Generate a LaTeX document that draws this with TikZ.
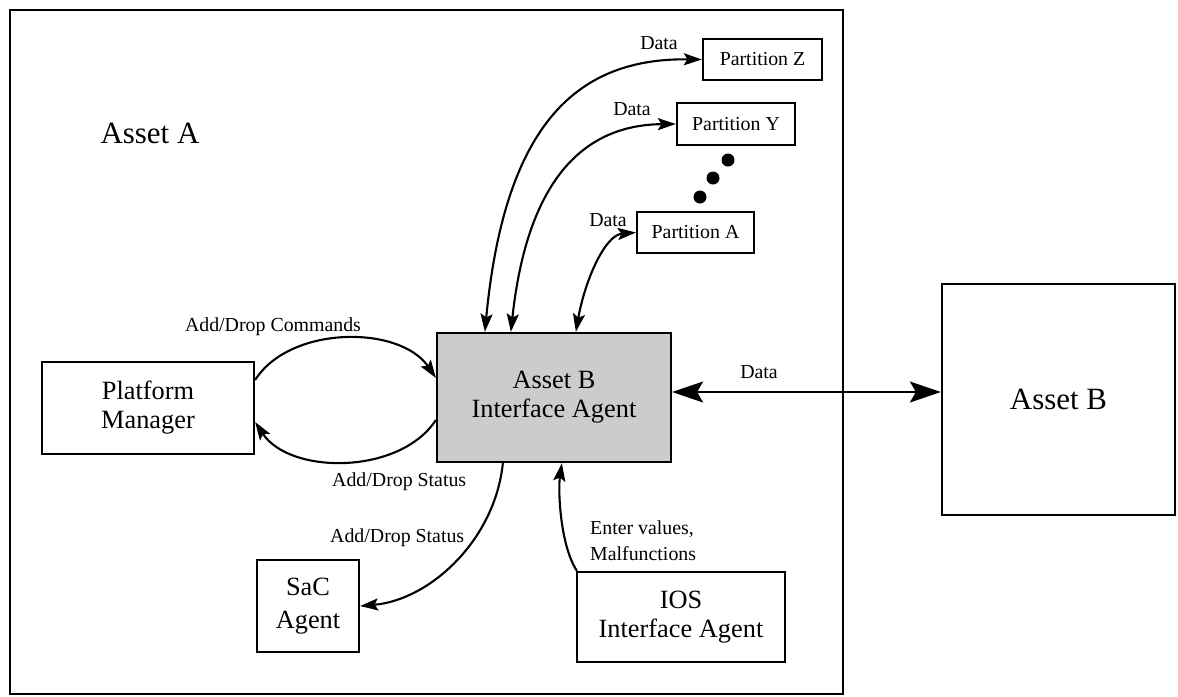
\documentclass[tikz,border=0pt]{standalone}
\usepackage{fontspec}
\setmainfont{Liberation Serif}
\usepackage{tikz}
\usetikzlibrary{positioning}
\usetikzlibrary{arrows.meta}

\begin{document}
\begin{tikzpicture}[x=0.02cm, y=-0.02cm,
  box/.style={draw, line width=1.3pt, align=center, inner sep=0pt},
  bigtxt/.style={font=\fontsize{15}{16.5}\selectfont},
  smalltxt/.style={font=\fontsize{11.3}{14.8}\selectfont},
  flow/.style={line width=1.2pt, -{Stealth[length=0.36cm,width=0.24cm,inset=0.07cm]}},
  twoway/.style={line width=1.2pt, {Stealth[length=0.36cm,width=0.24cm,inset=0.07cm]}-{Stealth[length=0.36cm,width=0.24cm,inset=0.07cm]}}]

\useasboundingbox (0,0) rectangle (1178,697);

% Asset A frame
\draw[line width=1.6pt] (10,10) rectangle (843,694);
\node[font=\fontsize{17.6}{20}\selectfont] (assetA) at (150,133) {Asset A};

% boxes
\node[box, bigtxt, minimum width=4.24cm, minimum height=1.84cm] (plat) at (148,408) {Platform\\Manager};
\node[box, bigtxt, fill=gray!40, minimum width=4.68cm, minimum height=2.58cm] (iface) at (554,397.5) {Asset B\\Interface Agent};
\node[box, bigtxt, font=\fontsize{15}{18.5}\selectfont, minimum width=2.04cm, minimum height=1.84cm] (sac) at (308,606) {SaC\\Agent};
\node[box, bigtxt, minimum width=4.16cm, minimum height=1.8cm] (ios) at (681,617) {IOS\\Interface Agent};
\node[box, font=\fontsize{17.6}{20}\selectfont, minimum width=4.66cm, minimum height=4.62cm] (assetB) at (1058.5,399.5) {Asset B};

\node[box, smalltxt, minimum width=2.38cm, minimum height=0.82cm] (pZ) at (762.5,59.5) {Partition Z};
\node[box, smalltxt, minimum width=2.36cm, minimum height=0.84cm] (pY) at (736,124) {Partition Y};
\node[box, smalltxt, minimum width=2.34cm, minimum height=0.82cm] (pA) at (695.5,232.5) {Partition A};

% dots between Y and A
\foreach \px/\py in {728/160, 713/178, 700/197}
  \fill (\px,\py) circle [radius=0.13cm];

% data to partitions
\draw[twoway] ([xshift=0.98cm]iface.north west) .. controls (505,120) and (580,58) .. (pZ.west);
\draw[twoway] ([xshift=1.5cm]iface.north west) .. controls (525,200) and (570,125) .. (pY.west);
\draw[twoway] ([xshift=2.8cm]iface.north west) .. controls (585,280) and (605,235) .. (pA.west);
\node[smalltxt] (dZ) at (659,43) {Data};
\node[smalltxt] (dY) at (632,109) {Data};
\node[smalltxt] (dA) at (608,220) {Data};

% platform manager loop
\draw[flow] ([yshift=0.56cm]plat.east) .. controls (290,325) and (400,325) .. ([yshift=0.39cm]iface.west);
\draw[flow] ([yshift=-0.45cm]iface.west) .. controls (400,475) and (290,475) .. ([yshift=-0.28cm]plat.east);
\node[smalltxt] (cmd) at (273,327) {Add/Drop Commands};
\node[smalltxt, anchor=west] (stat1) at (326,482) {Add/Drop Status};

% SaC agent
\draw[flow] ([xshift=1.34cm]iface.south west) .. controls (495,540) and (430,600) .. (sac.east);
\node[smalltxt, anchor=west] (stat2) at (324,538) {Add/Drop Status};

% IOS agent
\draw[flow] ([xshift=0.02cm]ios.north west) .. controls (560,545) and (558,490) .. ([xshift=2.52cm]iface.south west);
\node[smalltxt, align=left, anchor=west] (enter) at (584,541) {Enter values,\\Malfunctions};

% link to asset B
\draw[line width=0.9pt, {Stealth[length=0.62cm,width=0.42cm,inset=0.12cm]}-{Stealth[length=0.62cm,width=0.42cm,inset=0.12cm]}] ([yshift=0.11cm]iface.east) -- ([yshift=0.11cm]iface.east -| assetB.west);
\node[smalltxt] (dB) at (759,372) {Data};

\end{tikzpicture}
\end{document}
